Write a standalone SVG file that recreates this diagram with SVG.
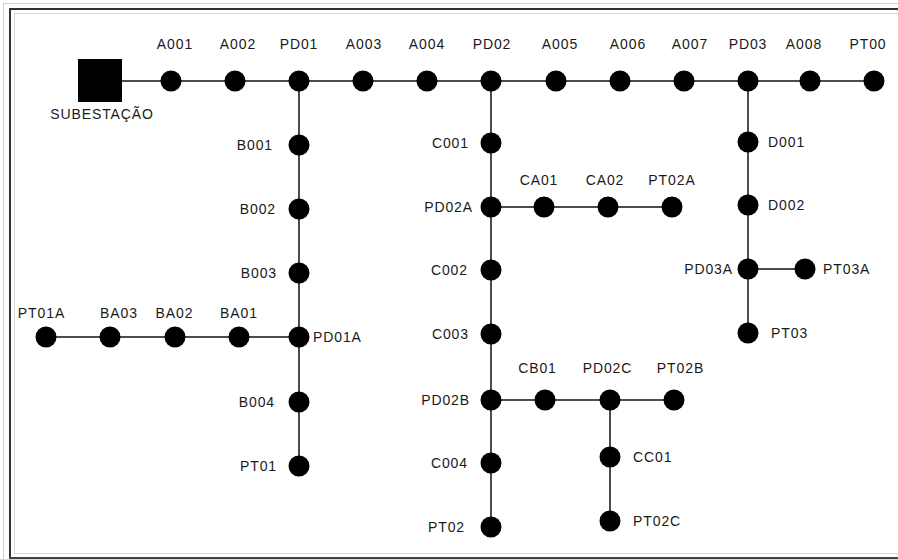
<svg xmlns="http://www.w3.org/2000/svg" width="898" height="559" viewBox="0 0 898 559">
<style>
.n{fill:#000}
.e{stroke:#111;stroke-width:1.5;fill:none}
text{font-family:"Liberation Sans",Arial,sans-serif;font-size:14px;letter-spacing:0.9px;fill:#1a1a1a}
.m{text-anchor:middle}
.r{text-anchor:end}
.fr{fill:none;shape-rendering:crispEdges}
</style>
<rect width="898" height="559" fill="#fff"/>
<g id="frame">
<path class="fr" d="M3.5 559V3.5H898" stroke="#d0d0d0"/>
<path class="fr" d="M9.5 559V8.5H898" stroke="#333" stroke-width="2"/>
<path class="fr" d="M14.5 554V13.5H898" stroke="#d8d8d8"/>
<path class="fr" d="M14 553.5H898" stroke="#d8d8d8"/>
<path class="fr" d="M9 557.5H898" stroke="#444" stroke-width="2"/>
</g>
<g id="connectors">
<line class="e" x1="122" y1="81" x2="171" y2="81"/>
<line class="e" x1="171" y1="81" x2="235" y2="81"/>
<line class="e" x1="235" y1="81" x2="299" y2="81"/>
<line class="e" x1="299" y1="81" x2="363" y2="81"/>
<line class="e" x1="363" y1="81" x2="427" y2="81"/>
<line class="e" x1="427" y1="81" x2="491" y2="81"/>
<line class="e" x1="491" y1="81" x2="556" y2="81"/>
<line class="e" x1="556" y1="81" x2="620" y2="81"/>
<line class="e" x1="620" y1="81" x2="684" y2="81"/>
<line class="e" x1="684" y1="81" x2="748" y2="81"/>
<line class="e" x1="748" y1="81" x2="810" y2="81"/>
<line class="e" x1="810" y1="81" x2="874" y2="81"/>
<line class="e" x1="299" y1="81" x2="299" y2="145"/>
<line class="e" x1="299" y1="145" x2="299" y2="209"/>
<line class="e" x1="299" y1="209" x2="299" y2="273"/>
<line class="e" x1="299" y1="273" x2="299" y2="337"/>
<line class="e" x1="299" y1="337" x2="299" y2="402"/>
<line class="e" x1="299" y1="402" x2="299" y2="466"/>
<line class="e" x1="299" y1="337" x2="239" y2="337"/>
<line class="e" x1="239" y1="337" x2="175" y2="337"/>
<line class="e" x1="175" y1="337" x2="110" y2="337"/>
<line class="e" x1="110" y1="337" x2="46" y2="337"/>
<line class="e" x1="491" y1="81" x2="491" y2="143"/>
<line class="e" x1="491" y1="143" x2="491" y2="207"/>
<line class="e" x1="491" y1="207" x2="491" y2="270"/>
<line class="e" x1="491" y1="270" x2="491" y2="334"/>
<line class="e" x1="491" y1="334" x2="491" y2="400"/>
<line class="e" x1="491" y1="400" x2="491" y2="463"/>
<line class="e" x1="491" y1="463" x2="491" y2="527"/>
<line class="e" x1="491" y1="207" x2="544" y2="207"/>
<line class="e" x1="544" y1="207" x2="608" y2="207"/>
<line class="e" x1="608" y1="207" x2="672" y2="207"/>
<line class="e" x1="491" y1="400" x2="545" y2="400"/>
<line class="e" x1="545" y1="400" x2="610" y2="400"/>
<line class="e" x1="610" y1="400" x2="674" y2="400"/>
<line class="e" x1="610" y1="400" x2="610" y2="457"/>
<line class="e" x1="610" y1="457" x2="610" y2="521"/>
<line class="e" x1="748" y1="81" x2="748" y2="142"/>
<line class="e" x1="748" y1="142" x2="748" y2="205"/>
<line class="e" x1="748" y1="205" x2="748" y2="269"/>
<line class="e" x1="748" y1="269" x2="748" y2="333"/>
<line class="e" x1="748" y1="269" x2="805" y2="269"/>
</g>
<g id="SUBESTACAO"><rect class="n" x="78" y="59" width="44" height="43"/><text class="m" x="102" y="119">SUBESTAÇÃO</text></g>
<g id="A001"><circle class="n" cx="171" cy="81" r="10.5"/><text class="m" x="175" y="49">A001</text></g>
<g id="A002"><circle class="n" cx="235" cy="81" r="10.5"/><text class="m" x="238" y="49">A002</text></g>
<g id="PD01"><circle class="n" cx="299" cy="81" r="10.5"/><text class="m" x="299" y="49">PD01</text></g>
<g id="A003"><circle class="n" cx="363" cy="81" r="10.5"/><text class="m" x="364" y="49">A003</text></g>
<g id="A004"><circle class="n" cx="427" cy="81" r="10.5"/><text class="m" x="427" y="49">A004</text></g>
<g id="PD02"><circle class="n" cx="491" cy="81" r="10.5"/><text class="m" x="492" y="49">PD02</text></g>
<g id="A005"><circle class="n" cx="556" cy="81" r="10.5"/><text class="m" x="560" y="49">A005</text></g>
<g id="A006"><circle class="n" cx="620" cy="81" r="10.5"/><text class="m" x="628" y="49">A006</text></g>
<g id="A007"><circle class="n" cx="684" cy="81" r="10.5"/><text class="m" x="690" y="49">A007</text></g>
<g id="PD03"><circle class="n" cx="748" cy="81" r="10.5"/><text class="m" x="748" y="49">PD03</text></g>
<g id="A008"><circle class="n" cx="810" cy="81" r="10.5"/><text class="m" x="804" y="49">A008</text></g>
<g id="PT00"><circle class="n" cx="874" cy="81" r="10.5"/><text class="m" x="868" y="49">PT00</text></g>
<g id="B001"><circle class="n" cx="299" cy="145" r="10.5"/><text class="r" x="273" y="150">B001</text></g>
<g id="B002"><circle class="n" cx="299" cy="209" r="10.5"/><text class="r" x="276" y="214">B002</text></g>
<g id="B003"><circle class="n" cx="299" cy="273" r="10.5"/><text class="r" x="277" y="278">B003</text></g>
<g id="PD01A"><circle class="n" cx="299" cy="337" r="10.5"/><text x="313" y="342">PD01A</text></g>
<g id="B004"><circle class="n" cx="299" cy="402" r="10.5"/><text class="r" x="275" y="407">B004</text></g>
<g id="PT01"><circle class="n" cx="299" cy="466" r="10.5"/><text class="r" x="277" y="471">PT01</text></g>
<g id="BA01"><circle class="n" cx="239" cy="337" r="10.5"/><text class="m" x="239" y="318">BA01</text></g>
<g id="BA02"><circle class="n" cx="175" cy="337" r="10.5"/><text class="m" x="174.5" y="318">BA02</text></g>
<g id="BA03"><circle class="n" cx="110" cy="337" r="10.5"/><text class="m" x="119" y="318">BA03</text></g>
<g id="PT01A"><circle class="n" cx="46" cy="337" r="10.5"/><text class="m" x="41.5" y="318">PT01A</text></g>
<g id="C001"><circle class="n" cx="491" cy="143" r="10.5"/><text class="r" x="469" y="148">C001</text></g>
<g id="PD02A"><circle class="n" cx="491" cy="207" r="10.5"/><text class="r" x="473" y="212">PD02A</text></g>
<g id="CA01"><circle class="n" cx="544" cy="207" r="10.5"/><text class="m" x="539" y="185">CA01</text></g>
<g id="CA02"><circle class="n" cx="608" cy="207" r="10.5"/><text class="m" x="605" y="185">CA02</text></g>
<g id="PT02A"><circle class="n" cx="672" cy="207" r="10.5"/><text class="m" x="672" y="185">PT02A</text></g>
<g id="C002"><circle class="n" cx="491" cy="270" r="10.5"/><text class="r" x="468" y="275">C002</text></g>
<g id="C003"><circle class="n" cx="491" cy="334" r="10.5"/><text class="r" x="469" y="339">C003</text></g>
<g id="PD02B"><circle class="n" cx="491" cy="400" r="10.5"/><text class="r" x="470" y="405">PD02B</text></g>
<g id="CB01"><circle class="n" cx="545" cy="400" r="10.5"/><text class="m" x="537.5" y="373">CB01</text></g>
<g id="PD02C"><circle class="n" cx="610" cy="400" r="10.5"/><text class="m" x="607.5" y="373">PD02C</text></g>
<g id="PT02B"><circle class="n" cx="674" cy="400" r="10.5"/><text class="m" x="680.5" y="373">PT02B</text></g>
<g id="C004"><circle class="n" cx="491" cy="463" r="10.5"/><text class="r" x="468" y="468">C004</text></g>
<g id="PT02"><circle class="n" cx="491" cy="527" r="10.5"/><text class="r" x="465" y="532">PT02</text></g>
<g id="CC01"><circle class="n" cx="610" cy="457" r="10.5"/><text x="633" y="462">CC01</text></g>
<g id="PT02C"><circle class="n" cx="610" cy="521" r="10.5"/><text x="633" y="526">PT02C</text></g>
<g id="D001"><circle class="n" cx="748" cy="142" r="10.5"/><text x="768" y="147">D001</text></g>
<g id="D002"><circle class="n" cx="748" cy="205" r="10.5"/><text x="768" y="210">D002</text></g>
<g id="PD03A"><circle class="n" cx="748" cy="269" r="10.5"/><text class="r" x="733" y="274">PD03A</text></g>
<g id="PT03A"><circle class="n" cx="805" cy="269" r="10.5"/><text x="823" y="274">PT03A</text></g>
<g id="PT03"><circle class="n" cx="748" cy="333" r="10.5"/><text x="771" y="338">PT03</text></g>
</svg>
